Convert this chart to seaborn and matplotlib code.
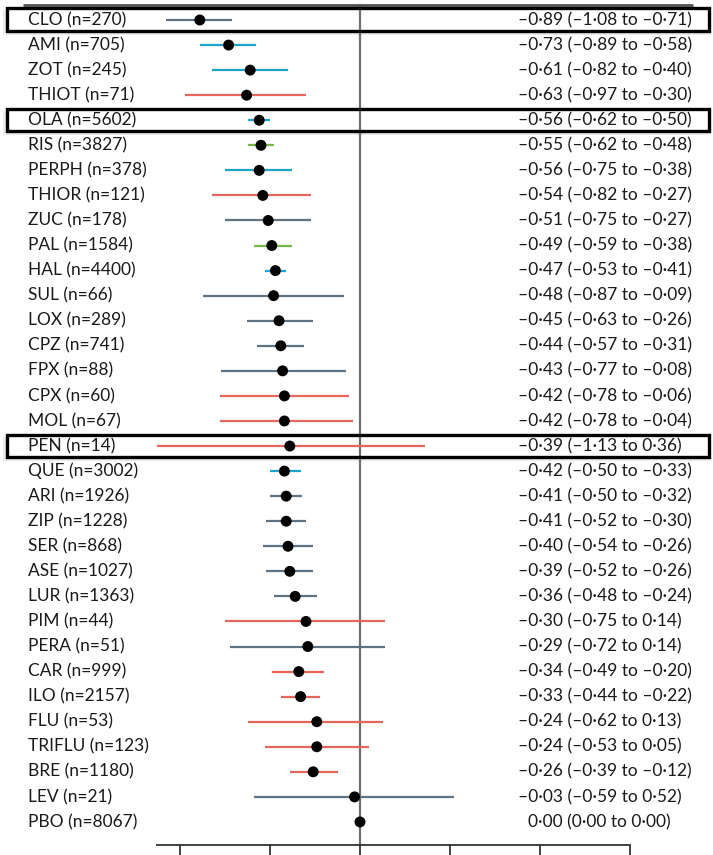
import matplotlib
matplotlib.use("Agg")
import matplotlib.pyplot as plt
import seaborn as sns
import pandas as pd
import numpy as np
from matplotlib.patches import Rectangle

names = ["CLO", "AMI", "ZOT", "THIOT", "OLA", "RIS", "PERPH", "THIOR", "ZUC", "PAL",
         "HAL", "SUL", "LOX", "CPZ", "FPX", "CPX", "MOL", "PEN", "QUE", "ARI", "ZIP",
         "SER", "ASE", "LUR", "PIM", "PERA", "CAR", "ILO", "FLU", "TRIFLU", "BRE", "LEV", "PBO"]
n_pat = [270, 705, 245, 71, 5602, 3827, 378, 121, 178, 1584, 4400, 66, 289, 741, 88, 60,
         67, 14, 3002, 1926, 1228, 868, 1027, 1363, 44, 51, 999, 2157, 53, 123, 1180, 21, 8067]
est = [-0.89, -0.73, -0.61, -0.63, -0.56, -0.55, -0.56, -0.54, -0.51, -0.49, -0.47, -0.48,
       -0.45, -0.44, -0.43, -0.42, -0.42, -0.39, -0.42, -0.41, -0.41, -0.40, -0.39, -0.36,
       -0.30, -0.29, -0.34, -0.33, -0.24, -0.24, -0.26, -0.03, 0.00]
lower = [-1.08, -0.89, -0.82, -0.97, -0.62, -0.62, -0.75, -0.82, -0.75, -0.59, -0.53, -0.87,
         -0.63, -0.57, -0.77, -0.78, -0.78, -1.13, -0.50, -0.50, -0.52, -0.54, -0.52, -0.48,
         -0.75, -0.72, -0.49, -0.44, -0.62, -0.53, -0.39, -0.59, 0.00]
upper = [-0.71, -0.58, -0.40, -0.30, -0.50, -0.48, -0.38, -0.27, -0.27, -0.38, -0.41, -0.09,
         -0.26, -0.31, -0.08, -0.06, -0.04, 0.36, -0.33, -0.32, -0.30, -0.26, -0.26, -0.24,
         0.14, 0.14, -0.20, -0.22, 0.13, 0.05, -0.12, 0.52, 0.00]
group = ["gray", "cyan", "cyan", "red", "cyan", "green", "cyan", "red", "gray", "green",
         "cyan", "gray", "gray", "gray", "gray", "red", "red", "red", "cyan", "gray", "gray",
         "gray", "gray", "gray", "red", "gray", "red", "red", "red", "red", "red", "gray", "none"]
highlight = ["CLO", "OLA", "PEN"]
ticks = [-1.0, -0.5, 0.0, 0.5, 1.0, 1.5]

palette = {"gray": "#5f7282", "cyan": "#1ea3cc", "red": "#e8655c", "green": "#78b848", "none": "#000000"}

df = pd.DataFrame({"name": names, "n": n_pat, "est": est, "lo": lower, "hi": upper, "group": group})
df["row"] = np.arange(len(df))


def fmt(v):
    s = f"{v:.2f}".replace(".", "\u00b7")
    return s.replace("-", "\u2013")


df["label"] = df["name"] + " (n=" + df["n"].astype(str) + ")"
df["ci"] = [f"{fmt(m)} ({fmt(a)} to {fmt(b)})" for m, a, b in zip(df.est, df.lo, df.hi)]

sns.set_theme(style="white")
plt.rcParams["font.family"] = ["Lato", "DejaVu Sans"]

fig = plt.figure(figsize=(7.13, 8.55), dpi=100)
ax = fig.add_axes([0, 10 / 855, 1, 845 / 855])
ax.set_xlim(-2.0, 713 / 180 - 2.0)
ax.set_ylim(32.92, -0.798)

# CI lines
for _, r in df.iterrows():
    if r.group != "none":
        ax.hlines(r.row, r.lo, r.hi, color=palette[r.group], lw=1.6, zorder=2)

sns.scatterplot(data=df, x="est", y="row", color="black", s=62, edgecolor="none",
                ax=ax, zorder=3, legend=False)

# reference line at zero
ax.axvline(0, ymin=0, ymax=(32.92 + 0.6) / (32.92 + 0.798), color="#6e6e6e", lw=1.6, zorder=1)
# top rule
ax.plot([-1.87, 1.85], [-0.6, -0.6], color="#555555", lw=2.0, zorder=1, solid_capstyle="butt")

# labels
for _, r in df.iterrows():
    ax.text(-1.845, r.row, r.label, ha="left", va="center", fontsize=12.5, color="#1a1a1a")
    off = 0.878 if r.est != 0 else 0.935
    ax.text(off, r.row, r.ci, ha="left", va="center", fontsize=12.5, color="#1a1a1a")

# highlight boxes
for nm in highlight:
    i = names.index(nm)
    ax.add_patch(Rectangle((-1.985, i - 0.38), 3.93, 0.98, facecolor="#d8d8d8", alpha=0.5,
                           edgecolor="none", zorder=0))
    ax.add_patch(Rectangle((-1.96, i - 0.46), 3.9, 0.9, facecolor="white",
                           edgecolor="none", zorder=0.5))
    ax.add_patch(Rectangle((-1.96, i - 0.46), 3.9, 0.9, facecolor="none",
                           edgecolor="black", lw=2.4, zorder=4))

# axis
for s in ["top", "left", "right"]:
    ax.spines[s].set_visible(False)
ax.spines["bottom"].set_bounds(-1.13, 1.5)
ax.spines["bottom"].set_color("#333333")
ax.spines["bottom"].set_linewidth(1.3)
ax.set_xticks(ticks)
ax.set_xticklabels([])
ax.set_yticks([])
ax.tick_params(axis="x", direction="out", length=7.5, width=1.3, color="#333333", bottom=True)
ax.set_xlabel("")
ax.set_ylabel("")

fig.savefig("out.png", dpi=100)
